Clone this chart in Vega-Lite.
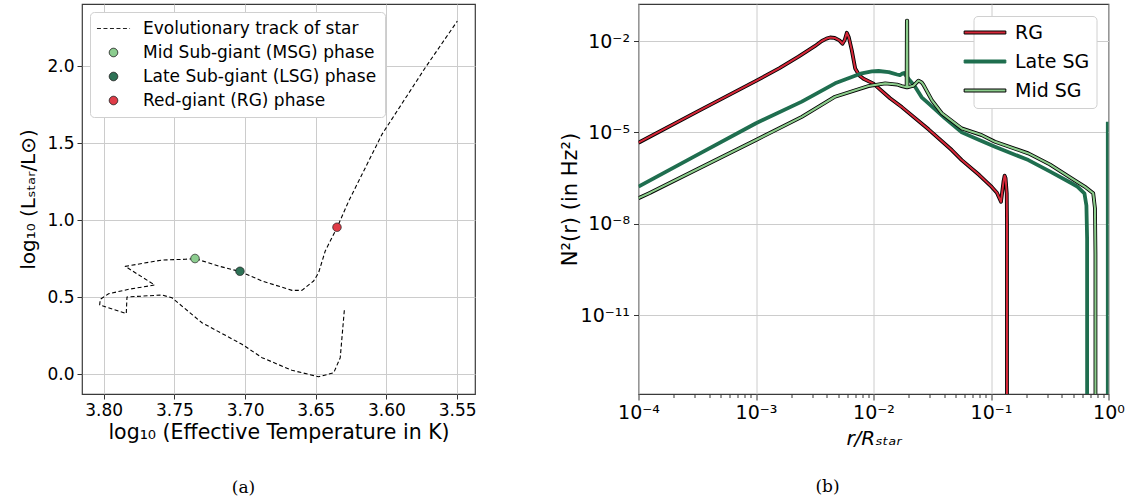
{
  "$schema": "https://vega.github.io/schema/vega-lite/v6.json",
  "autosize": {"type": "pad"},
  "padding": {"left": 18, "top": 3, "right": 5, "bottom": 5},
  "background": "white",
  "bounds": "flush",
  "spacing": 163.5,
  "datasets": {
    "track": [
      {"i": 0, "logT": 3.6298, "logL": 0.416},
      {"i": 1, "logT": 3.6327, "logL": 0.108},
      {"i": 2, "logT": 3.6373, "logL": 0.010},
      {"i": 3, "logT": 3.6480, "logL": -0.016},
      {"i": 4, "logT": 3.6668, "logL": 0.026},
      {"i": 5, "logT": 3.6880, "logL": 0.108},
      {"i": 6, "logT": 3.7022, "logL": 0.195},
      {"i": 7, "logT": 3.7305, "logL": 0.335},
      {"i": 8, "logT": 3.7517, "logL": 0.497},
      {"i": 9, "logT": 3.7588, "logL": 0.515},
      {"i": 10, "logT": 3.7835, "logL": 0.502},
      {"i": 11, "logT": 3.7840, "logL": 0.394},
      {"i": 12, "logT": 3.8028, "logL": 0.450},
      {"i": 13, "logT": 3.8024, "logL": 0.487},
      {"i": 14, "logT": 3.7965, "logL": 0.523},
      {"i": 15, "logT": 3.7823, "logL": 0.552},
      {"i": 16, "logT": 3.7639, "logL": 0.580},
      {"i": 17, "logT": 3.7847, "logL": 0.701},
      {"i": 18, "logT": 3.7588, "logL": 0.742},
      {"i": 19, "logT": 3.7423, "logL": 0.747},
      {"i": 20, "logT": 3.7352, "logL": 0.751},
      {"i": 21, "logT": 3.7187, "logL": 0.703},
      {"i": 22, "logT": 3.7034, "logL": 0.667},
      {"i": 23, "logT": 3.6880, "logL": 0.606},
      {"i": 24, "logT": 3.6668, "logL": 0.545},
      {"i": 25, "logT": 3.6598, "logL": 0.545},
      {"i": 26, "logT": 3.6515, "logL": 0.606},
      {"i": 27, "logT": 3.6480, "logL": 0.660},
      {"i": 28, "logT": 3.6433, "logL": 0.801},
      {"i": 29, "logT": 3.6350, "logL": 0.952},
      {"i": 30, "logT": 3.6267, "logL": 1.125},
      {"i": 31, "logT": 3.6032, "logL": 1.558},
      {"i": 32, "logT": 3.5726, "logL": 1.991},
      {"i": 33, "logT": 3.5499, "logL": 2.294}
    ],
    "phases": [
      {"phase": "Mid Sub-giant (MSG) phase", "logT": 3.7354, "logL": 0.752},
      {"phase": "Late Sub-giant (LSG) phase", "logT": 3.7036, "logL": 0.669},
      {"phase": "Red-giant (RG) phase", "logT": 3.6350, "logL": 0.955}
    ],
    "n2": [
      {"star": "RG", "i": 0, "logr": -4.0, "logN2": -5.34},
      {"star": "RG", "i": 1, "logr": -3.5, "logN2": -4.32},
      {"star": "RG", "i": 2, "logr": -3.0, "logN2": -3.31},
      {"star": "RG", "i": 3, "logr": -2.8, "logN2": -2.89},
      {"star": "RG", "i": 4, "logr": -2.638, "logN2": -2.515},
      {"star": "RG", "i": 5, "logr": -2.5, "logN2": -2.17},
      {"star": "RG", "i": 6, "logr": -2.44, "logN2": -2.0},
      {"star": "RG", "i": 7, "logr": -2.4, "logN2": -1.92},
      {"star": "RG", "i": 8, "logr": -2.369, "logN2": -1.885},
      {"star": "RG", "i": 9, "logr": -2.33, "logN2": -1.9},
      {"star": "RG", "i": 10, "logr": -2.29, "logN2": -1.98},
      {"star": "RG", "i": 11, "logr": -2.264, "logN2": -2.09},
      {"star": "RG", "i": 12, "logr": -2.245, "logN2": -1.97},
      {"star": "RG", "i": 13, "logr": -2.227, "logN2": -1.73},
      {"star": "RG", "i": 14, "logr": -2.21, "logN2": -1.88},
      {"star": "RG", "i": 15, "logr": -2.185, "logN2": -2.3},
      {"star": "RG", "i": 16, "logr": -2.156, "logN2": -2.9},
      {"star": "RG", "i": 17, "logr": -2.12, "logN2": -3.13},
      {"star": "RG", "i": 18, "logr": -2.085, "logN2": -3.24},
      {"star": "RG", "i": 19, "logr": -2.0, "logN2": -3.4},
      {"star": "RG", "i": 20, "logr": -1.859, "logN2": -3.88},
      {"star": "RG", "i": 21, "logr": -1.759, "logN2": -4.17},
      {"star": "RG", "i": 22, "logr": -1.532, "logN2": -4.9},
      {"star": "RG", "i": 23, "logr": -1.334, "logN2": -5.58},
      {"star": "RG", "i": 24, "logr": -1.249, "logN2": -5.91},
      {"star": "RG", "i": 25, "logr": -1.1, "logN2": -6.4},
      {"star": "RG", "i": 26, "logr": -0.994, "logN2": -6.79},
      {"star": "RG", "i": 27, "logr": -0.95, "logN2": -6.98},
      {"star": "RG", "i": 28, "logr": -0.915, "logN2": -7.28},
      {"star": "RG", "i": 29, "logr": -0.893, "logN2": -6.6},
      {"star": "RG", "i": 30, "logr": -0.884, "logN2": -6.42},
      {"star": "RG", "i": 31, "logr": -0.876, "logN2": -6.5},
      {"star": "RG", "i": 32, "logr": -0.866, "logN2": -7.0},
      {"star": "RG", "i": 33, "logr": -0.864, "logN2": -8.0},
      {"star": "RG", "i": 34, "logr": -0.864, "logN2": -15},
      {"star": "Late SG", "i": 0, "logr": -4.0, "logN2": -6.78},
      {"star": "Late SG", "i": 1, "logr": -3.5, "logN2": -5.74},
      {"star": "Late SG", "i": 2, "logr": -3.0, "logN2": -4.7},
      {"star": "Late SG", "i": 3, "logr": -2.61, "logN2": -3.99},
      {"star": "Late SG", "i": 4, "logr": -2.327, "logN2": -3.39},
      {"star": "Late SG", "i": 5, "logr": -2.1, "logN2": -3.06},
      {"star": "Late SG", "i": 6, "logr": -2.014, "logN2": -3.0},
      {"star": "Late SG", "i": 7, "logr": -1.957, "logN2": -2.985},
      {"star": "Late SG", "i": 8, "logr": -1.87, "logN2": -3.02},
      {"star": "Late SG", "i": 9, "logr": -1.8, "logN2": -3.1},
      {"star": "Late SG", "i": 10, "logr": -1.775, "logN2": -3.12},
      {"star": "Late SG", "i": 11, "logr": -1.755, "logN2": -3.07},
      {"star": "Late SG", "i": 12, "logr": -1.74, "logN2": -3.05},
      {"star": "Late SG", "i": 13, "logr": -1.72, "logN2": -3.15},
      {"star": "Late SG", "i": 14, "logr": -1.69, "logN2": -3.3},
      {"star": "Late SG", "i": 15, "logr": -1.646, "logN2": -3.5},
      {"star": "Late SG", "i": 16, "logr": -1.59, "logN2": -3.85},
      {"star": "Late SG", "i": 17, "logr": -1.532, "logN2": -4.05},
      {"star": "Late SG", "i": 18, "logr": -1.391, "logN2": -4.54},
      {"star": "Late SG", "i": 19, "logr": -1.249, "logN2": -5.0},
      {"star": "Late SG", "i": 20, "logr": -1.1, "logN2": -5.25},
      {"star": "Late SG", "i": 21, "logr": -0.966, "logN2": -5.47},
      {"star": "Late SG", "i": 22, "logr": -0.682, "logN2": -5.91},
      {"star": "Late SG", "i": 23, "logr": -0.5, "logN2": -6.28},
      {"star": "Late SG", "i": 24, "logr": -0.314, "logN2": -6.67},
      {"star": "Late SG", "i": 25, "logr": -0.265, "logN2": -6.78},
      {"star": "Late SG", "i": 26, "logr": -0.205, "logN2": -7.0},
      {"star": "Late SG", "i": 27, "logr": -0.188, "logN2": -7.4},
      {"star": "Late SG", "i": 28, "logr": -0.182, "logN2": -8.5},
      {"star": "Late SG", "i": 29, "logr": -0.182, "logN2": -15},
      {"star": "Late SG", "i": 30, "logr": -0.006, "logN2": -15},
      {"star": "Late SG", "i": 31, "logr": -0.006, "logN2": -4.65},
      {"star": "Mid SG", "i": 0, "logr": -4.0, "logN2": -7.16},
      {"star": "Mid SG", "i": 1, "logr": -3.9, "logN2": -6.98},
      {"star": "Mid SG", "i": 2, "logr": -3.5, "logN2": -6.21},
      {"star": "Mid SG", "i": 3, "logr": -3.0, "logN2": -5.25},
      {"star": "Mid SG", "i": 4, "logr": -2.61, "logN2": -4.49},
      {"star": "Mid SG", "i": 5, "logr": -2.327, "logN2": -3.83},
      {"star": "Mid SG", "i": 6, "logr": -2.043, "logN2": -3.48},
      {"star": "Mid SG", "i": 7, "logr": -1.9, "logN2": -3.39},
      {"star": "Mid SG", "i": 8, "logr": -1.8, "logN2": -3.43},
      {"star": "Mid SG", "i": 9, "logr": -1.76, "logN2": -3.48},
      {"star": "Mid SG", "i": 10, "logr": -1.718, "logN2": -3.52},
      {"star": "Mid SG", "i": 11, "logr": -1.716, "logN2": -1.33},
      {"star": "Mid SG", "i": 12, "logr": -1.713, "logN2": -1.33},
      {"star": "Mid SG", "i": 13, "logr": -1.711, "logN2": -3.52},
      {"star": "Mid SG", "i": 14, "logr": -1.66, "logN2": -3.47},
      {"star": "Mid SG", "i": 15, "logr": -1.617, "logN2": -3.3},
      {"star": "Mid SG", "i": 16, "logr": -1.59, "logN2": -3.36},
      {"star": "Mid SG", "i": 17, "logr": -1.575, "logN2": -3.44},
      {"star": "Mid SG", "i": 18, "logr": -1.504, "logN2": -3.94},
      {"star": "Mid SG", "i": 19, "logr": -1.419, "logN2": -4.37},
      {"star": "Mid SG", "i": 20, "logr": -1.249, "logN2": -4.87},
      {"star": "Mid SG", "i": 21, "logr": -1.079, "logN2": -5.09},
      {"star": "Mid SG", "i": 22, "logr": -0.966, "logN2": -5.31},
      {"star": "Mid SG", "i": 23, "logr": -0.682, "logN2": -5.69},
      {"star": "Mid SG", "i": 24, "logr": -0.5, "logN2": -6.05},
      {"star": "Mid SG", "i": 25, "logr": -0.314, "logN2": -6.51},
      {"star": "Mid SG", "i": 26, "logr": -0.203, "logN2": -6.78},
      {"star": "Mid SG", "i": 27, "logr": -0.13, "logN2": -7.0},
      {"star": "Mid SG", "i": 28, "logr": -0.115, "logN2": -7.5},
      {"star": "Mid SG", "i": 29, "logr": -0.111, "logN2": -9.0},
      {"star": "Mid SG", "i": 30, "logr": -0.111, "logN2": -15}
    ]
  },
  "hconcat": [
    {
      "width": 393,
      "height": 390,
      "title": {"text": "(a)", "orient": "bottom", "anchor": "middle", "font": "DejaVu Serif", "fontSize": 17, "fontWeight": "normal", "color": "black", "offset": 37, "dx": -35},
      "encoding": {
        "x": {"field": "logT", "type": "quantitative",
          "scale": {"domain": [3.5374, 3.8153], "reverse": true, "nice": false, "zero": false},
          "axis": {"values": [3.8, 3.75, 3.7, 3.65, 3.6, 3.55], "format": ".2f", "title": "log₁₀ (Effective Temperature in K)", "labelFontSize": 17, "titleFontSize": 20.5, "labelPadding": 3, "titlePadding": 4, "labelFlush": false}},
        "y": {"field": "logL", "type": "quantitative",
          "scale": {"domain": [-0.128, 2.405], "nice": false, "zero": false},
          "axis": {"values": [0, 0.5, 1, 1.5, 2], "format": ".1f", "title": "log₁₀ (Lₛₜₐᵣ/L⊙)", "labelFontSize": 17, "titleFontSize": 20, "labelPadding": 3, "titlePadding": 8}}
      },
      "layer": [
        {
          "data": {"name": "track"},
          "mark": {"type": "line", "color": "black", "strokeWidth": 1.1, "strokeDash": [4, 2.5], "clip": true},
          "encoding": {"order": {"field": "i", "type": "quantitative"}}
        },
        {
          "data": {"name": "phases"},
          "mark": {"type": "point", "filled": true, "size": 72, "stroke": "#222222", "strokeWidth": 0.8, "opacity": 1},
          "encoding": {
            "color": {"field": "phase", "type": "nominal",
              "scale": {"domain": ["Evolutionary track of star", "Mid Sub-giant (MSG) phase", "Late Sub-giant (LSG) phase", "Red-giant (RG) phase"], "range": ["black", "#8ccd8f", "#2e7256", "#e03c48"]},
              "legend": {
                "title": null, "orient": "top-left", "offset": 8, "padding": 8,
                "symbolSize": 72, "symbolStrokeWidth": 1, "symbolOffset": 7,
                "labelFontSize": 17, "labelOffset": 21, "rowPadding": 6, "labelLimit": 400,
                "fillColor": "white", "strokeColor": "#d0d0d0", "cornerRadius": 4
              }
            },
            "shape": {"field": "phase", "type": "nominal",
              "scale": {"domain": ["Evolutionary track of star", "Mid Sub-giant (MSG) phase", "Late Sub-giant (LSG) phase", "Red-giant (RG) phase"], "range": ["M-3.9,0H3.9", "circle", "circle", "circle"]},
              "legend": {
                "title": null, "orient": "top-left", "offset": 8, "padding": 8,
                "symbolSize": 72, "symbolStrokeWidth": 1, "symbolOffset": 7,
                "labelFontSize": 17, "labelOffset": 21, "rowPadding": 6, "labelLimit": 400,
                "fillColor": "white", "strokeColor": "#d0d0d0", "cornerRadius": 4
              }
            },
            "strokeDash": {"field": "phase", "type": "nominal",
              "scale": {"domain": ["Evolutionary track of star", "Mid Sub-giant (MSG) phase", "Late Sub-giant (LSG) phase", "Red-giant (RG) phase"], "range": [[4, 2.5], [1, 0], [1, 0], [1, 0]]},
              "legend": {
                "title": null, "orient": "top-left", "offset": 8, "padding": 8,
                "symbolSize": 72, "symbolStrokeWidth": 1, "symbolOffset": 7,
                "labelFontSize": 17, "labelOffset": 21, "rowPadding": 6, "labelLimit": 400,
                "fillColor": "white", "strokeColor": "#d0d0d0", "cornerRadius": 4
              }
            }
          }
        }
      ]
    },
    {
      "width": 470,
      "height": 390,
      "title": {"text": "(b)", "orient": "bottom", "anchor": "middle", "font": "DejaVu Serif", "fontSize": 17, "fontWeight": "normal", "color": "black", "offset": 31, "dx": -46},
      "data": {"name": "n2"},
      "encoding": {
        "x": {"field": "logr", "type": "quantitative",
          "scale": {"domain": [-4, 0], "nice": false, "zero": false},
          "axis": {
            "values": [-4, -3.69897, -3.52288, -3.39794, -3.30103, -3.22185, -3.1549, -3.09691, -3.04576, -3, -2.69897, -2.52288, -2.39794, -2.30103, -2.22185, -2.1549, -2.09691, -2.04576, -2, -1.69897, -1.52288, -1.39794, -1.30103, -1.22185, -1.1549, -1.09691, -1.04576, -1, -0.69897, -0.52288, -0.39794, -0.30103, -0.22185, -0.1549, -0.09691, -0.04576, 0],
            "labelExpr": "datum.value === -4 ? '10⁻⁴' : datum.value === -3 ? '10⁻³' : datum.value === -2 ? '10⁻²' : datum.value === -1 ? '10⁻¹' : datum.value === 0 ? '10⁰' : ''",
            "labelOverlap": false, "labelFlush": false, "labelBound": false,
            "tickSize": {"condition": {"test": "datum.value === round(datum.value)", "value": 6}, "value": 3.5},
            "gridOpacity": {"condition": {"test": "datum.value === round(datum.value)", "value": 1}, "value": 0},
            "title": "r/Rₛₜₐᵣ", "titleFontStyle": "italic", "labelFontSize": 19, "titleFontSize": 20, "labelPadding": 3, "titlePadding": 6}},
        "y": {"field": "logN2", "type": "quantitative",
          "scale": {"domain": [-13.59, -0.785], "nice": false, "zero": false},
          "axis": {
            "values": [-11, -8, -5, -2],
            "labelExpr": "datum.value === -2 ? '10⁻²' : datum.value === -5 ? '10⁻⁵' : datum.value === -8 ? '10⁻⁸' : '10⁻¹¹'",
            "title": "N²(r) (in Hz²)", "labelFontSize": 19, "titleFontSize": 21, "labelPadding": 4, "titlePadding": 0}},
        "order": {"field": "i", "type": "quantitative"}
      },
      "layer": [
        {
          "transform": [{"filter": "datum.i < 0"}],
          "mark": {"type": "point", "shape": "M-4.17,-0.3H4.17V0.3H-4.17Z", "filled": true, "size": 100, "strokeWidth": 1, "opacity": 1},
          "encoding": {
            "color": {"field": "star", "type": "nominal",
              "scale": {"domain": ["RG", "Late SG", "Mid SG"], "range": ["#d62839", "#1f6e4f", "#8ccd8c"]},
              "legend": {
                "title": null, "orient": "top-right", "offset": 12, "padding": 7,
                "symbolSize": 100, "symbolStrokeWidth": 1, "symbolType": "M-4.17,-0.3H4.17V0.3H-4.17Z", "symbolOffset": -5,
                "labelFontSize": 19, "labelOffset": 20.5, "rowPadding": 9,
                "fillColor": "white", "strokeColor": "#d0d0d0", "cornerRadius": 4
              }
            },
            "stroke": {"field": "star", "type": "nominal",
              "scale": {"domain": ["RG", "Late SG", "Mid SG"], "range": ["black", "#1f6e4f", "black"]},
              "legend": {
                "title": null, "orient": "top-right", "offset": 12, "padding": 7,
                "symbolSize": 100, "symbolStrokeWidth": 1, "symbolType": "M-4.17,-0.3H4.17V0.3H-4.17Z", "symbolOffset": -5,
                "labelFontSize": 19, "labelOffset": 20.5, "rowPadding": 9,
                "fillColor": "white", "strokeColor": "#d0d0d0", "cornerRadius": 4
              }
            }
          }
        },
        {
          "transform": [{"filter": "datum.star === 'RG'"}],
          "mark": {"type": "line", "color": "black", "strokeWidth": 3.8, "clip": true}
        },
        {
          "transform": [{"filter": "datum.star === 'RG'"}],
          "mark": {"type": "line", "color": "#d62839", "strokeWidth": 2, "clip": true}
        },
        {
          "transform": [{"filter": "datum.star === 'Late SG'"}],
          "mark": {"type": "line", "color": "#1f6e4f", "strokeWidth": 3.8, "clip": true}
        },
        {
          "transform": [{"filter": "datum.star === 'Mid SG'"}],
          "mark": {"type": "line", "color": "black", "strokeWidth": 3.8, "clip": true}
        },
        {
          "transform": [{"filter": "datum.star === 'Mid SG'"}],
          "mark": {"type": "line", "color": "#8ccd8c", "strokeWidth": 2.1, "clip": true}
        }
      ]
    }
  ],
  "resolve": {"scale": {"color": "independent", "shape": "independent", "strokeDash": "independent", "stroke": "independent"}, "legend": {"color": "independent", "shape": "independent", "strokeDash": "independent", "stroke": "independent"}},
  "config": {
    "font": "DejaVu Sans",
    "view": {"stroke": "#3a3a3a", "strokeWidth": 1.2},
    "axis": {"domain": false, "grid": true, "gridColor": "#cccccc", "gridWidth": 1, "tickColor": "#333333", "tickWidth": 1, "tickSize": 5, "labelColor": "black", "titleColor": "black", "titleFontWeight": "normal", "labelFont": "DejaVu Sans", "titleFont": "DejaVu Sans"},
    "legend": {"labelFont": "DejaVu Sans", "labelColor": "black"},
    "line": {"strokeJoin": "round", "strokeCap": "butt"}
  }
}
